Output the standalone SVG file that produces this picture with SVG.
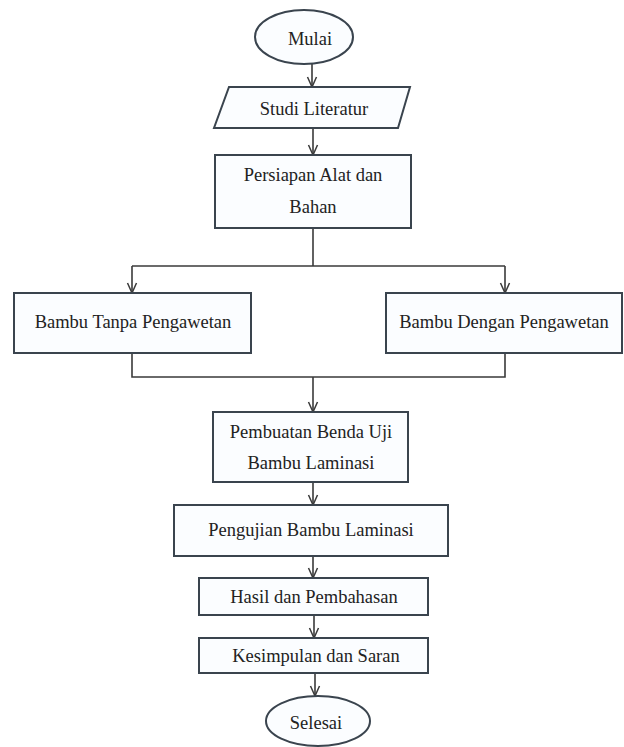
<svg xmlns="http://www.w3.org/2000/svg" width="624" height="747" viewBox="0 0 624 747">
<style>
.box{fill:#fbfdff;stroke:#3a444e;stroke-width:2}
.ln{fill:none;stroke:#3a3a3a;stroke-width:1.6}
text{font-family:'Liberation Serif','Times New Roman','DejaVu Serif',serif;font-size:18.5px;fill:#222;text-anchor:middle}
</style>
<defs>
<marker id="arr" viewBox="-1 -6 12 12" refX="10" refY="0" markerWidth="12" markerHeight="12" markerUnits="userSpaceOnUse" orient="auto">
<path d="M0,-4.5 L10,0 L0,4.5" fill="none" stroke="#3a3a3a" stroke-width="1.5"/>
</marker>
</defs>
<rect width="624" height="747" fill="#ffffff"/>
<g id="connectors">
<line class="ln" x1="312" y1="64" x2="312" y2="87" marker-end="url(#arr)"/>
<line class="ln" x1="313" y1="128" x2="313" y2="155" marker-end="url(#arr)"/>
<polyline class="ln" points="313,228 313,266"/>
<polyline class="ln" points="132,266 505,266"/>
<line class="ln" x1="132" y1="266" x2="132" y2="293" marker-end="url(#arr)"/>
<line class="ln" x1="505" y1="266" x2="505" y2="293" marker-end="url(#arr)"/>
<polyline class="ln" points="132,353 132,377 505,377 505,353"/>
<line class="ln" x1="313" y1="377" x2="313" y2="412" marker-end="url(#arr)"/>
<line class="ln" x1="313" y1="482" x2="313" y2="505" marker-end="url(#arr)"/>
<line class="ln" x1="313" y1="556" x2="313" y2="578" marker-end="url(#arr)"/>
<line class="ln" x1="314" y1="615" x2="314" y2="638" marker-end="url(#arr)"/>
<line class="ln" x1="315" y1="673" x2="315" y2="696" marker-end="url(#arr)"/>
</g>
<g id="mulai">
<ellipse class="box" cx="304" cy="37" rx="49" ry="27"/>
<text x="310" y="45" font-family="Liberation Serif, serif">Mulai</text>
</g>
<g id="studi">
<polygon class="box" points="229,87 410,87 398,128 214,128"/>
<text x="314" y="115" font-family="Liberation Serif, serif">Studi Literatur</text>
</g>
<g id="persiapan">
<rect class="box" x="215" y="155" width="196" height="73"/>
<text x="313" y="181" font-family="Liberation Serif, serif">Persiapan Alat dan</text>
<text x="313" y="213" font-family="Liberation Serif, serif">Bahan</text>
</g>
<g id="tanpa">
<rect class="box" x="14" y="293" width="237" height="60"/>
<text x="133" y="328" font-family="Liberation Serif, serif">Bambu Tanpa Pengawetan</text>
</g>
<g id="dengan">
<rect class="box" x="386" y="293" width="236" height="60"/>
<text x="504" y="328" font-family="Liberation Serif, serif">Bambu Dengan Pengawetan</text>
</g>
<g id="pembuatan">
<rect class="box" x="213" y="412" width="195" height="70"/>
<text x="311" y="438" font-family="Liberation Serif, serif">Pembuatan Benda Uji</text>
<text x="311" y="469" font-family="Liberation Serif, serif">Bambu Laminasi</text>
</g>
<g id="pengujian">
<rect class="box" x="174" y="505" width="274" height="51"/>
<text x="311" y="536" font-family="Liberation Serif, serif">Pengujian Bambu Laminasi</text>
</g>
<g id="hasil">
<rect class="box" x="199" y="578" width="229" height="37"/>
<text x="314" y="603" font-family="Liberation Serif, serif">Hasil dan Pembahasan</text>
</g>
<g id="kesimpulan">
<rect class="box" x="199" y="638" width="229" height="35"/>
<text x="316" y="662" font-family="Liberation Serif, serif">Kesimpulan dan Saran</text>
</g>
<g id="selesai">
<ellipse class="box" cx="318" cy="721" rx="52" ry="25"/>
<text x="316" y="729" font-family="Liberation Serif, serif">Selesai</text>
</g>
</svg>
